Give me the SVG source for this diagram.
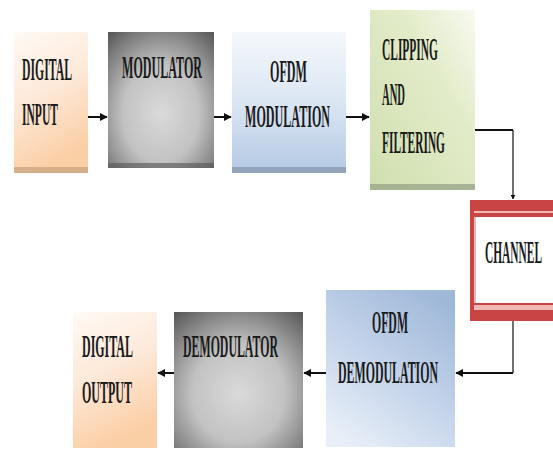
<svg xmlns="http://www.w3.org/2000/svg" width="553" height="450" viewBox="0 0 553 450">
<defs>
<linearGradient id="peach" x1="0" y1="0" x2="0.3" y2="1">
<stop offset="0" stop-color="#fffaf5"/><stop offset="0.5" stop-color="#fde9d9"/><stop offset="1" stop-color="#fbcfa6"/>
</linearGradient>
<radialGradient id="gray" cx="0.5" cy="0.6" r="0.8">
<stop offset="0" stop-color="#dadada"/><stop offset="0.45" stop-color="#c2c2c2"/><stop offset="1" stop-color="#505050"/>
</radialGradient>
<linearGradient id="blue" x1="0" y1="0" x2="0" y2="1">
<stop offset="0" stop-color="#f4f8fc"/><stop offset="0.5" stop-color="#dbe6f3"/><stop offset="1" stop-color="#b4c9e4"/>
</linearGradient>
<linearGradient id="blue2" x1="0.8" y1="0" x2="0.2" y2="1">
<stop offset="0" stop-color="#9fb8d8"/><stop offset="0.5" stop-color="#c3d3ea"/><stop offset="1" stop-color="#e8eff8"/>
</linearGradient>
<linearGradient id="green" x1="1" y1="0" x2="0" y2="1">
<stop offset="0" stop-color="#f8faf0"/><stop offset="0.35" stop-color="#e3ecca"/><stop offset="1" stop-color="#cfdfae"/>
</linearGradient>
<marker id="ah" viewBox="0 0 10 10" refX="9" refY="5" markerWidth="4" markerHeight="4" orient="auto" markerUnits="strokeWidth">
<path d="M0,0 L10,5 L0,10 z" fill="#111"/>
</marker>
<style>
.t{font-family:"Liberation Serif","Times New Roman",serif;font-size:31px;font-weight:bold;fill:#1a1a1a;}
.c{fill:none;stroke:#111;stroke-width:2;}
.cv{fill:none;stroke:#111;stroke-width:1.2;}
</style>
</defs>
<rect width="553" height="450" fill="#ffffff"/>

<g id="digital-input">
<rect x="14" y="32" width="74" height="141" fill="url(#peach)"/>
<rect x="14" y="167" width="74" height="6" fill="#c9a07c" opacity="0.7"/>
<text class="t" transform="translate(22,80) scale(0.375,1)" textLength="133.3" lengthAdjust="spacingAndGlyphs">DIGITAL</text>
<text class="t" transform="translate(22,125) scale(0.375,1)" textLength="96" lengthAdjust="spacingAndGlyphs">INPUT</text>
</g>

<g id="modulator">
<rect x="108" y="32" width="106" height="136" fill="url(#gray)"/>
<rect x="108" y="163" width="106" height="5" fill="#555" opacity="0.6"/>
<text class="t" transform="translate(122,78) scale(0.375,1)" textLength="213.3" lengthAdjust="spacingAndGlyphs">MODULATOR</text>
</g>

<g id="ofdm-modulation">
<rect x="232" y="32" width="114" height="141" fill="url(#blue)"/>
<rect x="232" y="167" width="114" height="6" fill="#8a9bb0" opacity="0.8"/>
<text class="t" transform="translate(270,82) scale(0.375,1)" textLength="98.7" lengthAdjust="spacingAndGlyphs">OFDM</text>
<text class="t" transform="translate(245,127) scale(0.375,1)" textLength="226.7" lengthAdjust="spacingAndGlyphs">MODULATION</text>
</g>

<g id="clipping-filtering">
<rect x="370" y="10" width="105" height="180" fill="url(#green)"/>
<rect x="370" y="184" width="105" height="6" fill="#9aa88a" opacity="0.8"/>
<text class="t" transform="translate(382,60) scale(0.375,1)" textLength="149.3" lengthAdjust="spacingAndGlyphs">CLIPPING</text>
<text class="t" transform="translate(382,105) scale(0.375,1)" textLength="61.3" lengthAdjust="spacingAndGlyphs">AND</text>
<text class="t" transform="translate(382,153) scale(0.375,1)" textLength="168" lengthAdjust="spacingAndGlyphs">FILTERING</text>
</g>

<g id="channel">
<rect x="470" y="200" width="90" height="121" fill="#c84543"/>
<rect x="474" y="211" width="86" height="99" fill="#f2b8b6"/>
<rect x="474" y="213" width="86" height="4" fill="#c84543"/>
<rect x="474" y="303" width="86" height="2" fill="#c84543"/>
<rect x="476" y="217" width="84" height="86" fill="#ffffff"/>
<text class="t" transform="translate(485,263) scale(0.375,1)" textLength="152" lengthAdjust="spacingAndGlyphs">CHANNEL</text>
</g>

<g id="ofdm-demodulation">
<rect x="326" y="290" width="129" height="157" fill="url(#blue2)"/>
<text class="t" transform="translate(372,333) scale(0.375,1)" textLength="96" lengthAdjust="spacingAndGlyphs">OFDM</text>
<text class="t" transform="translate(338,383) scale(0.375,1)" textLength="266.7" lengthAdjust="spacingAndGlyphs">DEMODULATION</text>
</g>

<g id="demodulator">
<rect x="174" y="312" width="129" height="136" fill="url(#gray)"/>
<text class="t" transform="translate(183,357) scale(0.375,1)" textLength="253.3" lengthAdjust="spacingAndGlyphs">DEMODULATOR</text>
</g>

<g id="digital-output">
<rect x="73" y="312" width="84" height="136" fill="url(#peach)"/>
<text class="t" transform="translate(82,357) scale(0.375,1)" textLength="136" lengthAdjust="spacingAndGlyphs">DIGITAL</text>
<text class="t" transform="translate(82,403) scale(0.375,1)" textLength="133.3" lengthAdjust="spacingAndGlyphs">OUTPUT</text>
</g>

<g id="connectors">
<line class="c" x1="88" y1="117" x2="107" y2="117" marker-end="url(#ah)"/>
<line class="c" x1="214" y1="117" x2="231" y2="117" marker-end="url(#ah)"/>
<line class="c" x1="346" y1="117" x2="369" y2="117" marker-end="url(#ah)"/>
<polyline class="c" points="475,130 513,130"/>
<polyline class="cv" points="513,130 513,199" marker-end="url(#ah)"/>
<polyline class="cv" points="513,321 513,373"/>
<polyline class="c" points="513,373 456,373" marker-end="url(#ah)"/>
<line class="c" x1="326" y1="373" x2="304" y2="373" marker-end="url(#ah)"/>
<line class="c" x1="174" y1="373" x2="158" y2="373" marker-end="url(#ah)"/>
</g>
</svg>
